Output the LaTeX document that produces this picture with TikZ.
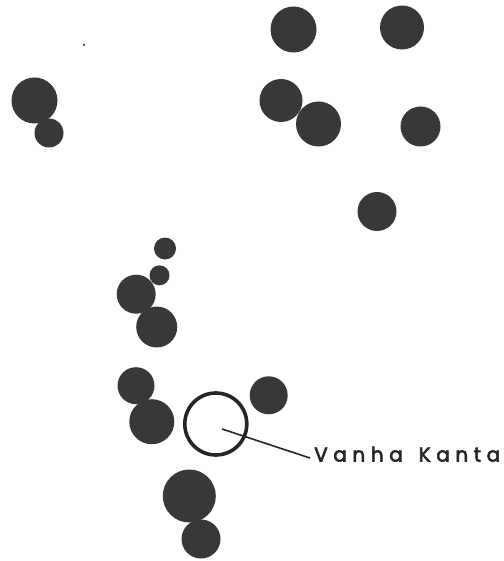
\documentclass[tikz,border=0pt]{standalone}
\usepackage{fontspec}
\newfontfamily\handfont[LetterSpace=28,FakeBold=3]{Poppins}
\begin{document}
\begin{tikzpicture}[x=1pt,y=-1pt,
  blob/.style={circle, fill=black!78, draw=none, inner sep=0pt, minimum size=#1},
  ringnode/.style={circle, draw=black!85, line width=3.6pt, inner sep=0pt, minimum size=#1},
  leader/.style={draw=black!85, line width=1.6pt},
  handlabel/.style={anchor=base west, inner sep=0pt, font=\handfont\fontsize{20}{20}\selectfont, text=black!85}]
\useasboundingbox[fill=white] (0,0) rectangle (503,561);
\clip (0,0) rectangle (503,561);
% top right group
\node[blob=46pt] (t1) at (293.5,29.5) {};
\node[blob=44pt] (t2) at (402,27.5) {};
\node[blob=43pt] (m1) at (281,100.5) {};
\node[blob=45pt] (m2) at (318.5,124) {};
\node[blob=40pt] (r1) at (420.5,126.5) {};
\node[blob=39pt] (r2) at (377,211.5) {};
% top left
\node[blob=46pt] (l1) at (34.5,100.5) {};
\node[blob=29pt] (l2) at (49,133) {};
\node[blob=2.5pt] (speck) at (84,45) {};
% lower left chain
\node[blob=22pt] (s1) at (165,248.5) {};
\node[blob=20pt] (s2) at (159.5,275.3) {};
\node[blob=39pt] (a1) at (136.2,294.2) {};
\node[blob=41pt] (a2) at (156.7,327) {};
\node[blob=37pt] (c1) at (136,385.7) {};
\node[blob=45pt] (c2) at (151.8,421.7) {};
\node[blob=38pt] (e1) at (268.7,395.3) {};
\node[blob=53pt] (f1) at (189.3,496) {};
\node[blob=39pt] (f2) at (201,539) {};
% open ring and label
\node[ringnode=62pt] (ring) at (215.8,424) {};
\coordinate (lstart) at (222,429);
\node[handlabel] (lab) at (314,461.5) {Vanha\hspace{5pt} Kanta};
\coordinate (lend) at (310,458);
\draw[leader] (lstart) -- (lend);
\end{tikzpicture}
\end{document}
